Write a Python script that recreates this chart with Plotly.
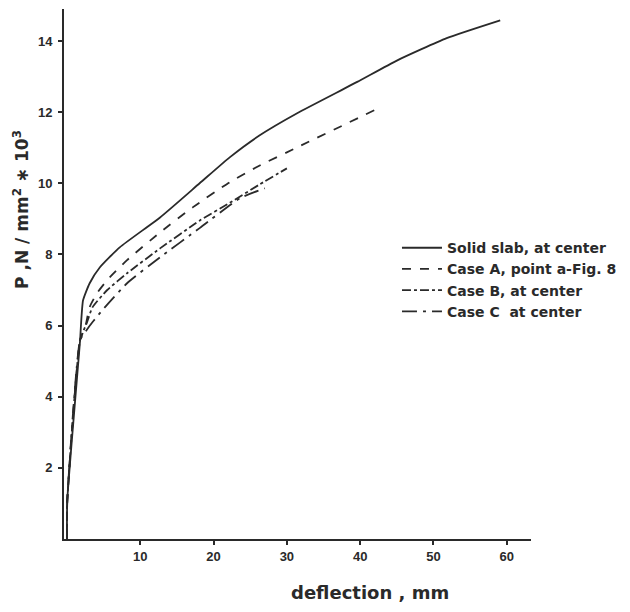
import plotly.graph_objects as go

# deflection (mm) and load P (N/mm^2 * 10^3)
solid_x = [0, 0.05, 1.8, 1.9, 2.2, 3.1, 4.5, 7.2, 12.7, 18.1, 22.2, 26.3, 31.4, 39.6, 45.0, 51.8, 59.1]
solid_y = [0, 1.1, 5.6, 5.96, 6.71, 7.19, 7.64, 8.2, 9.04, 10.0, 10.73, 11.35, 11.97, 12.85, 13.45, 14.08, 14.58]

caseA_x = [0, 0.05, 1.8, 2.5, 3.1, 4.1, 5.5, 8.2, 12.7, 17.2, 22.2, 26.3, 31.4, 42.2]
caseA_y = [0, 1.1, 5.6, 5.96, 6.52, 6.91, 7.28, 7.84, 8.62, 9.33, 10.03, 10.5, 11.01, 12.08]

caseB_x = [0, 0.05, 1.8, 2.7, 3.5, 5.5, 8.2, 12.7, 18.1, 22.2, 26.3, 30.0]
caseB_y = [0, 1.1, 5.6, 6.07, 6.52, 7.0, 7.47, 8.17, 8.95, 9.45, 9.97, 10.42]

caseC_x = [0, 0.05, 1.8, 2.6, 3.5, 4.9, 8.2, 12.7, 18.1, 23.6, 27.0]
caseC_y = [0, 1.1, 5.6, 5.85, 6.1, 6.45, 7.19, 7.92, 8.74, 9.58, 9.86]

names = ["Solid slab, at center", "Case A, point a-Fig. 8",
         "Case B, at center", "Case C  at center"]
x_ticks = [10, 20, 30, 40, 50, 60]
y_ticks = [2, 4, 6, 8, 10, 12, 14]

ink = "#2a2a2a"
series = [
    (solid_x, solid_y, "solid"),
    (caseA_x, caseA_y, "dash"),
    (caseB_x, caseB_y, "dashdot"),
    (caseC_x, caseC_y, "longdashdot"),
]

fig = go.Figure()
for (xs, ys, dash), name in zip(series, names):
    fig.add_trace(go.Scatter(
        x=xs, y=ys, mode="lines", name=name,
        line=dict(color=ink, width=1.8, dash=dash, shape="spline", smoothing=0.5),
    ))

tick_font = "Liberation Sans, Arial, sans-serif"
text_font = "DejaVu Sans, Verdana, sans-serif"
fig.update_layout(
    width=622, height=604,
    margin=dict(l=56, r=99, t=1, b=73),
    paper_bgcolor="white", plot_bgcolor="white",
    font=dict(family=tick_font, color=ink, size=13, weight="bold"),
    showlegend=True,
    legend=dict(
        x=0.713, y=0.579, xanchor="left", yanchor="top",
        bgcolor="rgba(0,0,0,0)",
        font=dict(family=text_font, size=14, color=ink, weight="bold"),
        tracegroupgap=0, itemwidth=40,
    ),
    xaxis=dict(
        range=[-0.4, 63.3], tickvals=x_ticks, ticks="outside", ticklen=4,
        tickwidth=1.5, tickcolor=ink, showline=True, linecolor=ink, linewidth=2,
        showgrid=False, zeroline=False, tickfont=dict(size=13, weight="bold"),
    ),
    yaxis=dict(
        range=[0, 14.9], tickvals=y_ticks, ticks="outside", ticklen=4,
        tickwidth=1.5, tickcolor=ink, showline=True, linecolor=ink, linewidth=2,
        showgrid=False, zeroline=False, tickfont=dict(size=13, weight="bold"),
        ticklabelstandoff=3,
    ),
    annotations=[
        dict(text="deflection , mm", xref="paper", yref="paper",
             x=0.656, y=-0.1, xanchor="center", yanchor="middle",
             showarrow=False,
             font=dict(family=text_font, size=18, weight="bold", color=ink)),
        dict(text="P ,N / mm<sup>2</sup> \u2217 10<sup>3</sup>", xref="paper", yref="paper",
             x=-0.092, y=0.621, xanchor="center", yanchor="middle", textangle=-90,
             showarrow=False,
             font=dict(family=text_font, size=17, weight="bold", color=ink)),
    ],
)

fig.write_html("out.html")
